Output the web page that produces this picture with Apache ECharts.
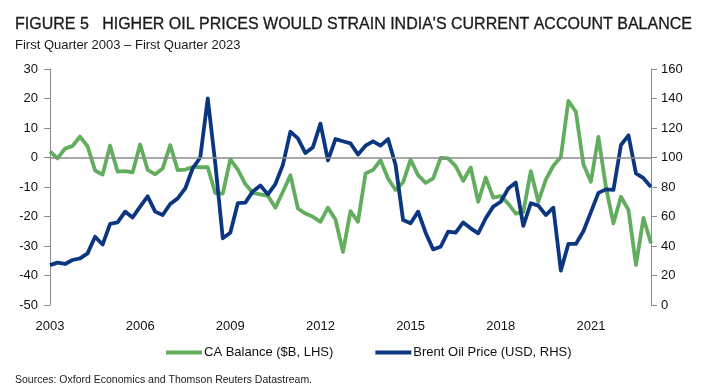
<!DOCTYPE html>
<html>
<head>
<meta charset="utf-8">
<script src="https://cdn.jsdelivr.net/npm/echarts@6/dist/echarts.min.js"></script>
<style>
html,body{margin:0;padding:0;background:#fff;}
#chart{width:706px;height:391px;}
</style>
</head>
<body>
<div id="chart"></div>
<script>
// Quarterly categories, Q1 2003 .. Q1 2023
const startYear = 2003;
const quarterCount = 81;
const tickYears = ['2003','2006','2009','2012','2015','2018','2021'];

// CA Balance ($B, LHS)
const caBalance = [
  2.1, -0.3, 3.0, 3.9, 7.1, 3.8, -4.4, -5.8,
  4.0, -4.8, -4.6, -5.0, 4.4, -4.2, -5.7, -3.7,
  4.2, -4.3, -4.1, -3.2, -3.3, -3.3, -12.1, -12.2,
  -0.6, -4.1, -9.0, -12.0, -12.5, -13.0, -17.0, -11.6,
  -6.0, -17.3, -19.0, -20.1, -21.8, -17.0, -21.0, -32.0,
  -18.2, -21.8, -5.4, -4.2, -0.9, -7.1, -11.0, -8.4,
  -0.7, -6.0, -8.6, -7.1, -0.1, -0.3, -2.9, -7.9,
  -3.4, -15.0, -6.8, -13.6, -13.1, -15.6, -19.0, -18.5,
  -4.6, -15.0, -7.5, -2.8, 0.2, 19.2, 15.5, -2.3,
  -8.2, 7.0, -10.0, -22.3, -13.3, -17.8, -36.4, -20.5,
  -29.1
];

// Brent Oil Price (USD, RHS)
const brentOil = [
  27.0, 28.7, 27.8, 30.5, 31.6, 35.0, 46.3, 41.0,
  55.0, 56.0, 63.3, 59.4, 66.7, 73.7, 63.3, 61.0,
  68.5, 72.3, 79.0, 92.7, 100.0, 140.0, 96.0, 45.2,
  49.0, 69.0, 69.4, 77.0, 81.0, 75.0, 82.0, 95.0,
  117.5, 113.0, 103.0, 107.0, 123.0, 98.0, 112.5, 111.0,
  109.6, 102.0, 108.0, 111.0, 108.0, 112.5, 95.0, 57.6,
  55.4, 63.3, 49.0, 37.7, 39.5, 49.7, 49.0, 56.0,
  52.0, 48.6, 58.8, 66.7, 70.0, 79.0, 83.0, 53.6,
  69.0, 67.4, 61.0, 66.0, 23.3, 41.4, 41.4, 50.0,
  63.0, 76.0, 78.4, 78.0, 108.5, 115.0, 89.3, 86.0,
  80.0
];

const categories = [];
for (let i = 0; i < quarterCount; i++) {
  categories.push((startYear + Math.floor(i / 4)) + 'Q' + (i % 4 + 1));
}

const GREEN = '#63AD5E';
const BLUE = '#0C3780';
const AXIS = '#8c8c8c';
const FONT = "'Liberation Sans',Arial,sans-serif";

const chart = echarts.init(document.getElementById('chart'), null, {renderer: 'canvas'});
chart.setOption({
  animation: false,
  backgroundColor: '#fff',
  title: [
    {
      text: "FIGURE 5   HIGHER OIL PRICES WOULD STRAIN INDIA'S CURRENT ACCOUNT BALANCE",
      left: 10, top: 12,
      textStyle: {fontFamily: FONT, fontSize: 16, fontWeight: 'normal', color: '#1a1a1a',
                  textBorderColor: '#1a1a1a', textBorderWidth: 0.3}
    },
    {
      text: 'First Quarter 2003 – First Quarter 2023',
      left: 10, top: 34,
      textStyle: {fontFamily: FONT, fontSize: 13, fontWeight: 'normal', color: '#1a1a1a'}
    },
    {
      text: 'Sources: Oxford Economics and Thomson Reuters Datastream.',
      left: 10, top: 370,
      textStyle: {fontFamily: FONT, fontSize: 10.5, fontWeight: 'normal', color: '#1a1a1a'}
    }
  ],
  legend: {
    left: 161, top: 341,
    itemGap: 42,
    itemWidth: 36, itemHeight: 4,
    icon: 'rect',
    textStyle: {fontFamily: FONT, fontSize: 13, color: '#111', padding: [0, 0, 0, -3]},
    data: ['CA Balance ($B, LHS)', 'Brent Oil Price (USD, RHS)']
  },
  grid: {left: 50, right: 55, top: 69, bottom: 86, containLabel: false},
  xAxis: {
    type: 'category',
    data: categories,
    boundaryGap: false,
    axisLine: {show: false},
    axisTick: {show: false},
    splitLine: {show: false},
    axisLabel: {
      interval: (idx) => idx % 12 === 0,
      formatter: (v, idx) => tickYears[idx / 12] || '',
      margin: 15,
      fontFamily: FONT, fontSize: 13, color: '#111'
    }
  },
  yAxis: [
    {
      type: 'value', min: -50, max: 30, interval: 10, position: 'left',
      axisLine: {show: true, lineStyle: {color: AXIS, width: 1}},
      axisTick: {show: true, length: 6, lineStyle: {color: AXIS}},
      splitLine: {show: false},
      axisLabel: {margin: 12, fontFamily: FONT, fontSize: 13, color: '#111'}
    },
    {
      type: 'value', min: 0, max: 160, interval: 20, position: 'right',
      axisLine: {show: true, lineStyle: {color: AXIS, width: 1}},
      axisTick: {show: true, length: 6, lineStyle: {color: AXIS}},
      splitLine: {show: false},
      axisLabel: {margin: 10, fontFamily: FONT, fontSize: 13, color: '#111'}
    }
  ],
  series: [
    {
      name: 'CA Balance ($B, LHS)',
      type: 'line', yAxisIndex: 0, data: caBalance,
      symbol: 'none', color: GREEN,
      lineStyle: {width: 3.8, color: GREEN, join: 'round'},
      markLine: {
        silent: true, symbol: 'none', label: {show: false},
        lineStyle: {color: AXIS, width: 1.5, type: 'solid'},
        data: [{yAxis: 0}]
      },
      z: 3
    },
    {
      name: 'Brent Oil Price (USD, RHS)',
      type: 'line', yAxisIndex: 1, data: brentOil,
      symbol: 'none', color: BLUE,
      lineStyle: {width: 3.8, color: BLUE, join: 'round'},
      z: 4
    }
  ]
});
</script>
</body>
</html>
